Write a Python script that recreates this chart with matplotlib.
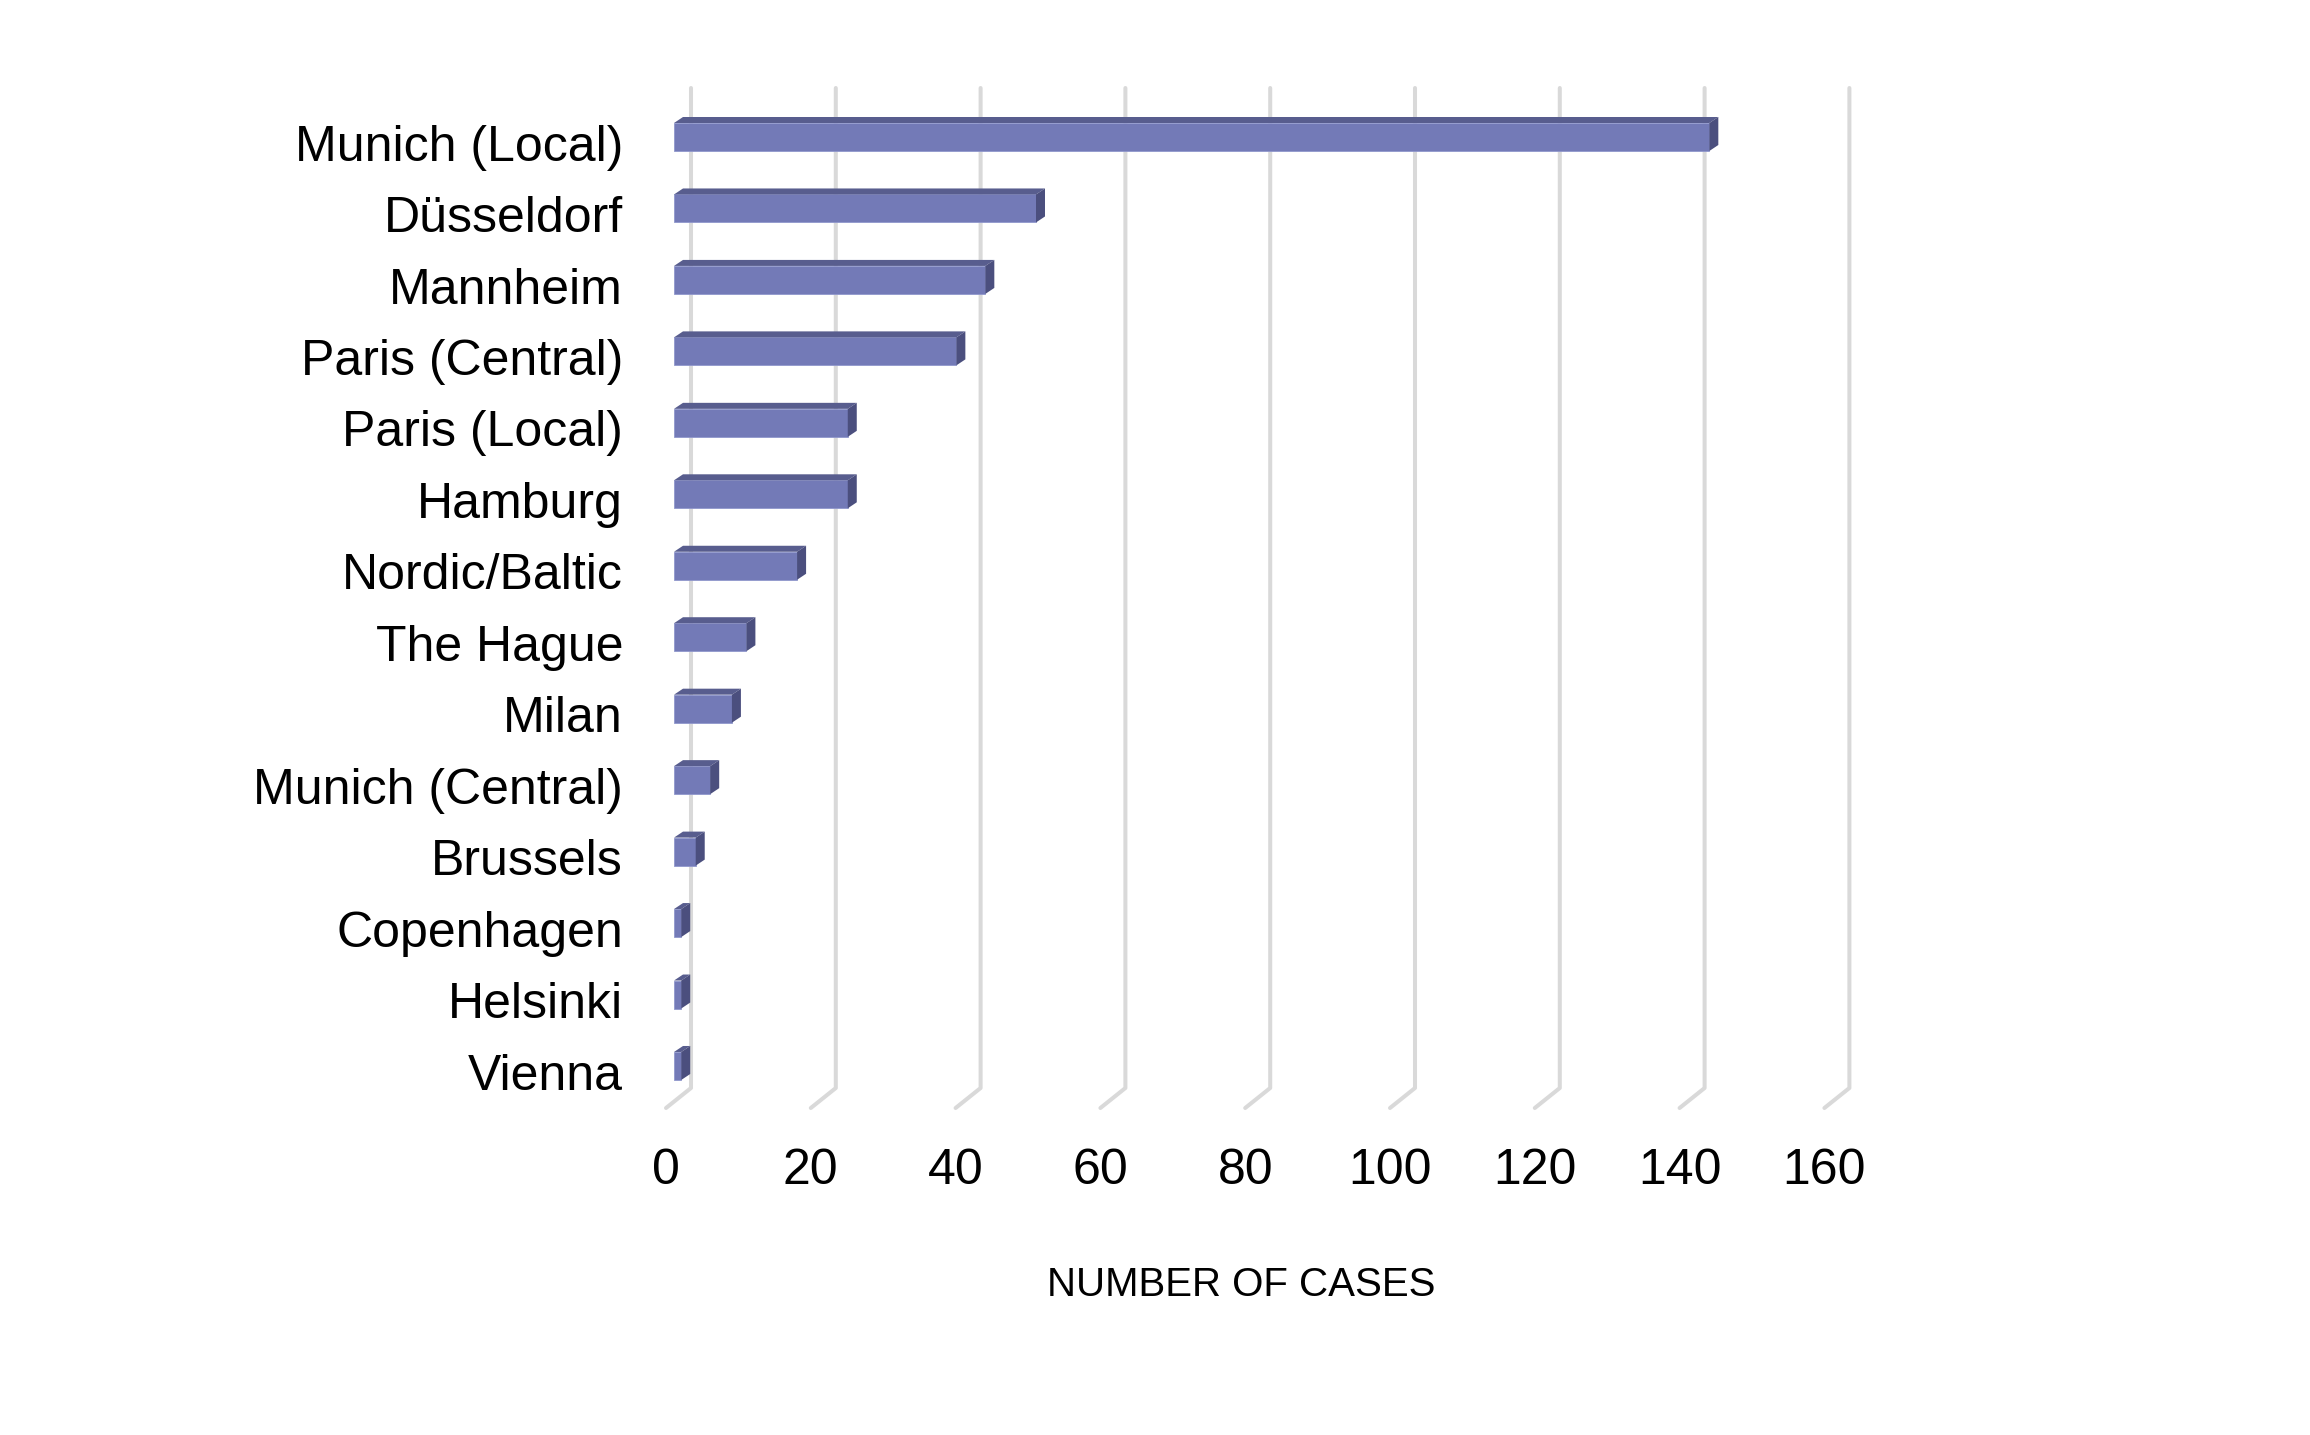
import matplotlib.pyplot as plt
from matplotlib.patches import Polygon

offices = ["Munich (Local)", "Düsseldorf", "Mannheim", "Paris (Central)",
           "Paris (Local)", "Hamburg", "Nordic/Baltic", "The Hague", "Milan",
           "Munich (Central)", "Brussels", "Copenhagen", "Helsinki", "Vienna"]
cases = [143, 50, 43, 39, 24, 24, 17, 10, 8, 5, 3, 1, 1, 1]
ticks = [0, 20, 40, 60, 80, 100, 120, 140, 160]
x_title = "NUMBER OF CASES"

plt.rcParams['font.family'] = ['Liberation Sans', 'DejaVu Sans']

front = "#737AB7"
top = "#585D8E"
side = "#4B4F7E"
grid = "#D9D9D9"

W, H = 2310, 1435
fig = plt.figure(figsize=(W / 100, H / 100), dpi=100)
# axes in pixels: x 600..1900, y 60..1140
ax = fig.add_axes([600 / W, 1 - 1140 / H, 1300 / W, 1080 / H])
px_x = 7.24    # pixels per case
px_y = 71.46   # pixels per category
ax.set_xlim((600 - 674) / px_x, (1900 - 674) / px_x)
ax.set_ylim((1140 - 137) / px_y, (60 - 137) / px_y)
ax.axis("off")

# 3d offsets in data units
bdx, bdy = 9 / px_x, -6 / px_y          # bar depth
wall_dx = 17 / px_x                      # back wall shift
floor_dx = -8 / px_x                     # front of floor
y_top = (88 - 137) / px_y
y_floor = (1088 - 137) / px_y
y_front = (1108 - 137) / px_y

for t in ticks:
    ax.plot([t + wall_dx, t + wall_dx, t + floor_dx],
            [y_top, y_floor, y_front], color=grid, lw=2.9,
            solid_capstyle="round", solid_joinstyle="round", zorder=1,
            clip_on=False)
    ax.text(t + floor_dx, (1184 - 137) / px_y, str(t), ha="center",
            va="baseline", fontsize=36, color="black")

h = 28 / px_y
ypos = list(range(len(offices)))
ax.barh(ypos, cases, height=h, color=front, edgecolor="#9097CC",
        linewidth=0.6, zorder=3)
for y, v in zip(ypos, cases):
    y0, y1 = y - h / 2, y + h / 2
    ax.add_patch(Polygon([(0, y0), (v, y0), (v + bdx, y0 + bdy), (bdx, y0 + bdy)],
                         closed=True, color=top, lw=0, zorder=3))
    ax.add_patch(Polygon([(v, y0), (v + bdx, y0 + bdy), (v + bdx, y1 + bdy), (v, y1)],
                         closed=True, color=side, lw=0, zorder=3))
    ax.text((623 - 674) / px_x, y + 0.33, offices[y], ha="right",
            va="baseline", fontsize=36, color="black")

ax.text((1241 - 674) / px_x, (1296 - 137) / px_y, x_title, ha="center",
        va="baseline", fontsize=29, color="black")

fig.savefig("out.png", dpi=100)
